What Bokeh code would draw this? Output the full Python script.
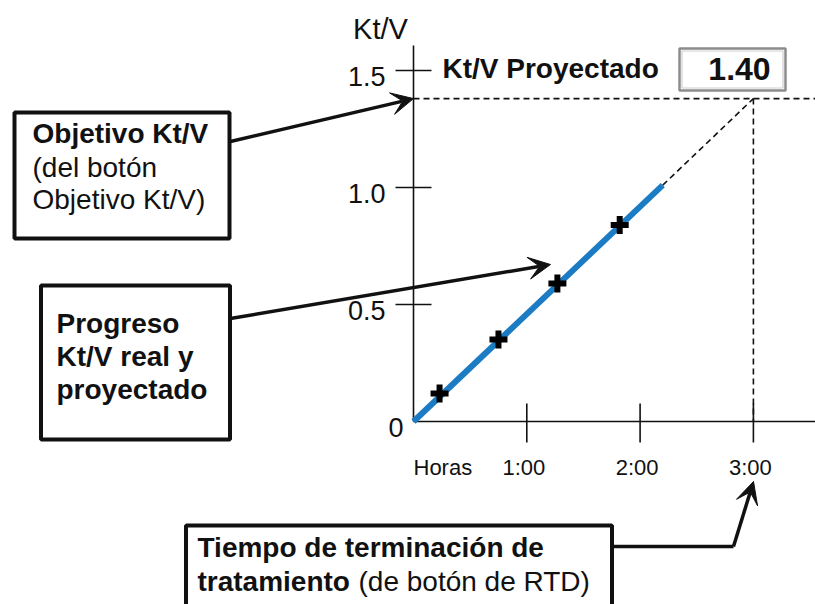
import numpy as np
from bokeh.plotting import figure
from bokeh.models import Range1d, Arrow, VeeHead
from bokeh.core.properties import value
from bokeh.embed import file_html
from bokeh.resources import INLINE

# ---------------- data ----------------
hour_ticks = [1, 2, 3]
hour_labels = ["1:00", "2:00", "3:00"]
hour_origin_label = "Horas"
ktv_ticks = [0.5, 1.0, 1.5]
ktv_labels = ["0.5", "1.0", "1.5"]
ktv_origin_label = "0"
measured_hours = [0.23, 0.75, 1.27, 1.82]
measured_ktv = [0.12, 0.35, 0.59, 0.84]
actual_hours = [0.0, 2.2]
actual_ktv = [0.0, 1.01]
end_hours = 3.0
target_ktv = 1.38
projected_text = "1.40"

# ---------------- layout (picture pixels -> data) ----------------
W, H, MARGIN = 815, 604, 0
PX_PER_H, PX_PER_KTV = 113.3, 234.0
ORIGIN_X, ORIGIN_Y = 413.0, 421.0


def hx(px):
    return (px - ORIGIN_X) / PX_PER_H


def vy(py):
    return (ORIGIN_Y - py) / PX_PER_KTV


FONT = value("Liberation Sans")
BLACK = "#111111"
BLUE = "#1b7cc4"

p = figure(width=W, height=H,
           x_range=Range1d(hx(MARGIN), hx(MARGIN + W)),
           y_range=Range1d(vy(MARGIN + H), vy(MARGIN)),
           output_backend="svg", toolbar_location=None,
           x_axis_location=None, y_axis_location=None,
           min_border=0, outline_line_color=None,
           background_fill_color="white", border_fill_color="white")
p.grid.grid_line_color = None

# axes lines
p.segment(x0=[0, 0], y0=[0, 0], x1=[0, hx(830)], y1=[vy(45), 0],
          line_color=BLACK, line_width=1.6)
# ticks
p.scatter(x=[0] * len(ktv_ticks), y=ktv_ticks, marker="dash", size=36,
          line_color=BLACK, line_width=1.6)
p.scatter(x=hour_ticks, y=[vy(422.5)] * len(hour_ticks), marker="dash", size=39,
          angle=np.pi / 2, line_color=BLACK, line_width=1.6)

# tick labels
p.text(x=[hx(385)] * len(ktv_ticks), y=ktv_ticks, text=ktv_labels,
       text_align="right", text_baseline="middle", y_offset=6,
       text_font=FONT, text_font_size="27px", text_color=BLACK)
p.text(x=[hx(403)], y=[0], text=[ktv_origin_label],
       text_align="right", text_baseline="middle", y_offset=6,
       text_font=FONT, text_font_size="27px", text_color=BLACK)
p.text(x=hour_ticks, y=[vy(467)] * len(hour_ticks), text=hour_labels,
       text_align="center", text_baseline="middle", x_offset=-3,
       text_font=FONT, text_font_size="22px", text_color=BLACK)
p.text(x=[0], y=[vy(467)], text=[hour_origin_label],
       text_align="left", text_baseline="middle",
       text_font=FONT, text_font_size="22px", text_color=BLACK)
p.text(x=[hx(380)], y=[vy(28)], text=["Kt/V"],
       text_align="center", text_baseline="middle",
       text_font=FONT, text_font_size="29px", text_color=BLACK)

# dashed guide lines
dash_kw = dict(line_color=BLACK, line_width=1.6, line_dash="6 4")
p.line(x=[actual_hours[-1], end_hours], y=[actual_ktv[-1], target_ktv], **dash_kw)
p.line(x=[0, hx(830)], y=[target_ktv, target_ktv], **dash_kw)
p.line(x=[end_hours, end_hours], y=[target_ktv, 0], **dash_kw)

# progress line and measurements
p.line(x=actual_hours, y=actual_ktv, line_color=BLUE, line_width=6, line_cap="butt")
p.scatter(x=measured_hours, y=measured_ktv, marker="cross", size=18,
          line_color="black", line_width=6)


def txt(px, baseline, s, bold=False, size=28, align="left"):
    # place by alphabetic baseline, using a middle anchor at cap-height centre
    p.text(x=[hx(px)], y=[vy(baseline - 0.358 * size)], text=[s], text_align=align,
           text_baseline="middle",
           text_font_style="bold" if bold else "normal",
           text_font=FONT, text_font_size=f"{size}px", text_color=BLACK)


# projected header and value box
txt(442, 78, "Kt/V Proyectado", bold=True)
p.quad(left=[hx(679)], right=[hx(785)], top=[vy(48)], bottom=[vy(90)],
       fill_color="white", line_color="#8c8c8c", line_width=2.5)
p.quad(left=[hx(681.5)], right=[hx(782.5)], top=[vy(50.5)], bottom=[vy(87.5)],
       fill_color=None, line_color="#cfcfcf", line_width=1.2)
txt(739, 80, projected_text, bold=True, size=32, align="center")

# callout boxes
box_kw = dict(fill_color="white", line_color=BLACK, line_width=4)
p.quad(left=[hx(14)], right=[hx(229)], top=[vy(112)], bottom=[vy(238)], **box_kw)
p.quad(left=[hx(40.5)], right=[hx(229.5)], top=[vy(285)], bottom=[vy(439)], **box_kw)
p.quad(left=[hx(185.5)], right=[hx(611.5)], top=[vy(525)], bottom=[vy(640)], **box_kw)

txt(32, 143, "Objetivo Kt/V", bold=True)
txt(32, 177, "(del botón")
txt(32, 209, "Objetivo Kt/V)")

txt(56, 333, "Progreso", bold=True)
txt(56, 366, "Kt/V real y", bold=True)
txt(56, 399, "proyectado", bold=True)

txt(197, 557, "Tiempo de terminación de", bold=True)
txt(197, 591, "tratamiento", bold=True)
txt(358, 591, "(de botón de RTD)")


# arrows
def arrow(x0, y0, x1, y1):
    p.add_layout(Arrow(end=VeeHead(size=22, fill_color=BLACK, line_color=BLACK, line_width=1),
                       x_start=x0, y_start=y0, x_end=x1, y_end=y1,
                       line_color=BLACK, line_width=3.5))


arrow(hx(230), vy(141), 0, target_ktv)
arrow(hx(230), vy(318), hx(550), vy(264))
p.line(x=[hx(611), hx(733)], y=[vy(546), vy(546)], line_color=BLACK, line_width=3.5)
arrow(hx(733), vy(546), hx(753), vy(481))

open("out.html", "w").write(file_html(p, INLINE))
